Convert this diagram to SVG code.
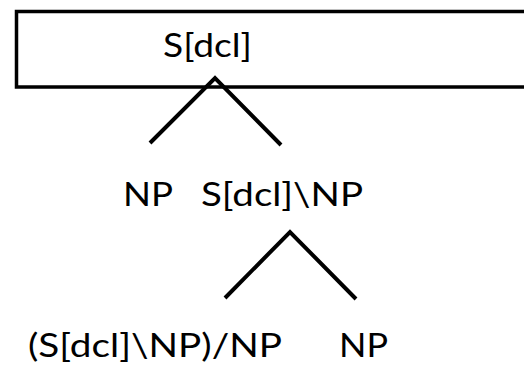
<svg xmlns="http://www.w3.org/2000/svg" width="524" height="368" viewBox="0 0 524 368">
<style>
text{font-family:Lato,"Open Sans","Liberation Sans",sans-serif;font-size:33px;fill:#000}
.e{stroke:#000;stroke-width:4;fill:none}
</style>
<rect width="524" height="368" fill="#fff"/>
<g id="root">
<rect x="16.5" y="11.5" width="520" height="75.5" fill="none" stroke="#000" stroke-width="3.5"/>
<text x="163" y="57" textLength="89" lengthAdjust="spacingAndGlyphs">S[dcl]</text>
</g>
<g id="connectors">
<polyline class="e" points="150,143 215,78 281,145"/>
<polyline class="e" points="225,298 290,232 356,299"/>
</g>
<g id="np1"><text x="123" y="206" textLength="50" lengthAdjust="spacingAndGlyphs">NP</text></g>
<g id="vp"><text x="201" y="206" textLength="162" lengthAdjust="spacingAndGlyphs">S[dcl]\NP</text></g>
<g id="verb"><text x="28" y="357" textLength="254" lengthAdjust="spacingAndGlyphs">(S[dcl]\NP)/NP</text></g>
<g id="np2"><text x="339" y="357" textLength="49" lengthAdjust="spacingAndGlyphs">NP</text></g>
</svg>
